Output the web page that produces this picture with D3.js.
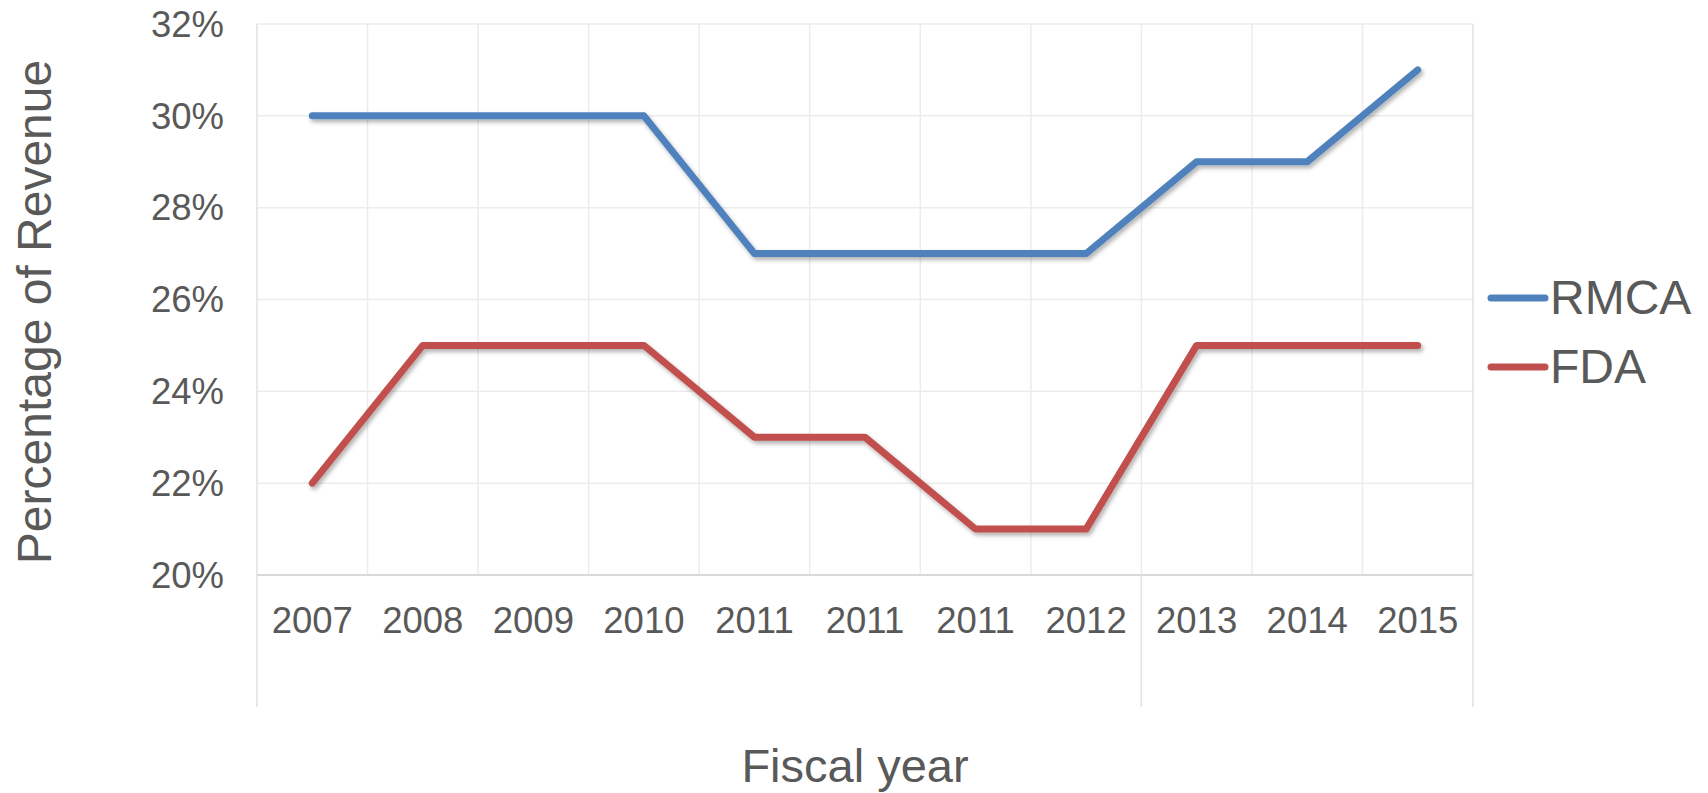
<!DOCTYPE html>
<html>
<head>
<meta charset="utf-8">
<script src="https://cdn.jsdelivr.net/npm/d3@7"></script>
<style>
  html, body { margin: 0; padding: 0; background: #fff; }
  svg { display: block; font-family: "Liberation Sans", Arial, sans-serif; }
</style>
</head>
<body>
<svg id="chart"></svg>
<script>
// category labels (the source repeats 2011 three times)
const years = ["2007", "2008", "2009", "2010", "2011", "2011", "2011", "2012", "2013", "2014", "2015"];
// share of revenue, per fiscal year
const rmca = [0.30, 0.30, 0.30, 0.30, 0.27, 0.27, 0.27, 0.27, 0.29, 0.29, 0.31];
const fda = [0.22, 0.25, 0.25, 0.25, 0.23, 0.23, 0.21, 0.21, 0.25, 0.25, 0.25];
const yTicks = [0.20, 0.22, 0.24, 0.26, 0.28, 0.30, 0.32];
const seriesNames = ["RMCA", "FDA"];
// group breaks drawn below the category axis (band indexes)
const groupBreaks = [0, 8, 11];

const svgWidth = 1708, svgHeight = 793;
const plot = {left: 257, right: 1473, top: 24, bottom: 575};
const textColor = "#595959";
const colors = ["#4f81bd", "#c0504d"];

const svg = d3.select("#chart")
    .attr("width", svgWidth)
    .attr("height", svgHeight);

// soft shadow under the lines
const defs = svg.append("defs");
defs.append("filter")
    .attr("id", "shadow")
    .attr("x", "-5%").attr("y", "-20%")
    .attr("width", "110%").attr("height", "140%")
    .append("feDropShadow")
    .attr("dx", 2).attr("dy", 3)
    .attr("stdDeviation", 2)
    .attr("flood-color", "#000")
    .attr("flood-opacity", 0.3);

const x = d3.scaleBand()
    .domain(d3.range(years.length))
    .range([plot.left, plot.right])
    .paddingInner(0).paddingOuter(0);

const y = d3.scaleLinear()
    .domain([0.20, 0.32])
    .range([plot.bottom, plot.top]);

// horizontal gridlines
svg.append("g")
    .selectAll("line")
    .data(yTicks.slice(1))
    .join("line")
    .attr("x1", plot.left).attr("x2", plot.right)
    .attr("y1", d => y(d)).attr("y2", d => y(d))
    .attr("stroke", "#ececec")
    .attr("stroke-width", 1.5);

// vertical gridlines at category boundaries
svg.append("g")
    .selectAll("line")
    .data(d3.range(years.length + 1))
    .join("line")
    .attr("x1", i => i < years.length ? x(i) : plot.right)
    .attr("x2", i => i < years.length ? x(i) : plot.right)
    .attr("y1", plot.top).attr("y2", plot.bottom)
    .attr("stroke", i => (i === 0 || i === years.length) ? "#e0e0e0" : "#ececec")
    .attr("stroke-width", 1.5);

// category axis line
svg.append("line")
    .attr("x1", plot.left).attr("x2", plot.right)
    .attr("y1", plot.bottom).attr("y2", plot.bottom)
    .attr("stroke", "#d9d9d9")
    .attr("stroke-width", 2);

// group dividers under the axis
svg.append("g")
    .selectAll("line")
    .data(groupBreaks)
    .join("line")
    .attr("x1", i => i < years.length ? x(i) : plot.right)
    .attr("x2", i => i < years.length ? x(i) : plot.right)
    .attr("y1", plot.bottom).attr("y2", 707)
    .attr("stroke", "#e0e0e0")
    .attr("stroke-width", 1.5);

// y tick labels
svg.append("g")
    .selectAll("text")
    .data(yTicks)
    .join("text")
    .attr("x", 224)
    .attr("y", d => y(d))
    .attr("dy", "0.35em")
    .attr("text-anchor", "end")
    .attr("fill", textColor)
    .attr("font-size", 36.5)
    .text(d3.format(".0%"));

// x tick labels
svg.append("g")
    .selectAll("text")
    .data(years)
    .join("text")
    .attr("x", (d, i) => x(i) + x.bandwidth() / 2)
    .attr("y", 633)
    .attr("text-anchor", "middle")
    .attr("fill", textColor)
    .attr("font-size", 36.5)
    .text(d => d);

const line = d3.line()
    .x((d, i) => x(i) + x.bandwidth() / 2)
    .y(d => y(d));

[rmca, fda].forEach((data, k) => {
    svg.append("path")
        .datum(data)
        .attr("fill", "none")
        .attr("stroke", colors[k])
        .attr("stroke-width", 7)
        .attr("stroke-linejoin", "round")
        .attr("stroke-linecap", "round")
        .attr("filter", "url(#shadow)")
        .attr("d", line);
});

// legend
const legend = svg.append("g")
    .selectAll("g")
    .data(seriesNames)
    .join("g")
    .attr("transform", (d, i) => "translate(0," + (298 + i * 69) + ")");

legend.append("line")
    .attr("x1", 1491).attr("x2", 1545)
    .attr("y1", 0).attr("y2", 0)
    .attr("stroke", (d, i) => colors[i])
    .attr("stroke-width", 7)
    .attr("stroke-linecap", "round");

legend.append("text")
    .attr("x", 1550)
    .attr("y", 16)
    .attr("fill", textColor)
    .attr("font-size", 48)
    .text(d => d);

// axis titles
svg.append("text")
    .attr("x", 855)
    .attr("y", 782)
    .attr("text-anchor", "middle")
    .attr("fill", textColor)
    .attr("font-size", 47)
    .text("Fiscal year");

svg.append("text")
    .attr("transform", "translate(51,312) rotate(-90)")
    .attr("text-anchor", "middle")
    .attr("fill", textColor)
    .attr("font-size", 48)
    .text("Percentage of Revenue");
</script>
</body>
</html>
